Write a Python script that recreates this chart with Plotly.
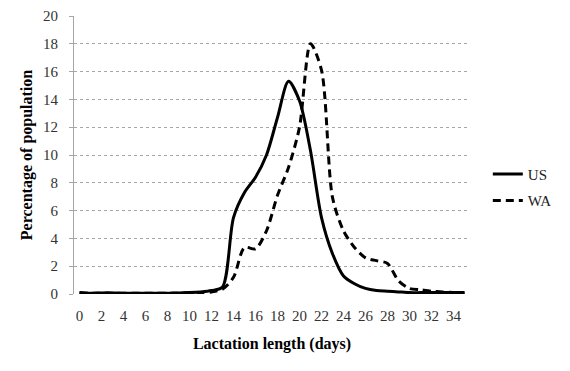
import plotly.graph_objects as go

days = list(range(0, 36))
us = [0.1, 0.05, 0.08, 0.08, 0.05, 0.05, 0.05, 0.05, 0.05, 0.08, 0.1, 0.15,
      0.25, 0.5, 5.5, 7.3, 8.4, 10.0, 12.7, 15.3, 13.9, 10.3, 5.5, 2.9,
      1.3, 0.74, 0.4, 0.25, 0.2, 0.15, 0.1, 0.1, 0.1, 0.1, 0.1, 0.1]
wa = [0.05, 0.05, 0.05, 0.05, 0.05, 0.05, 0.05, 0.05, 0.05, 0.05, 0.08, 0.1,
      0.15, 0.35, 1.2, 3.35, 3.25, 4.55, 7.1, 9.1, 12.0, 18.0, 16.1, 6.95,
      4.55, 3.35, 2.6, 2.4, 2.2, 0.95, 0.4, 0.3, 0.2, 0.15, 0.1, 0.05]
x_ticks = list(range(0, 35, 2))
y_ticks = list(range(0, 21, 2))

serif = "Liberation Serif"

fig = go.Figure()
fig.add_trace(go.Scatter(x=days, y=us, name="US", mode="lines", legendgroup="a",
                         line=dict(color="black", width=3, shape="spline", smoothing=0.8)))
fig.add_trace(go.Scatter(x=days, y=wa, name="WA", mode="lines", legendgroup="b",
                         line=dict(color="black", width=3, shape="spline", smoothing=0.8,
                                   dash="8px,5px")))

fig.update_layout(
    width=570, height=371,
    margin=dict(l=66, r=108, t=8, b=85),
    plot_bgcolor="white", paper_bgcolor="white",
    font=dict(family=serif, size=15, color="#222222"),
    showlegend=True,
    legend=dict(x=1.045, y=0.49, xanchor="left", yanchor="top",
                font=dict(family=serif, size=15, color="#222222"),
                tracegroupgap=4, bgcolor="rgba(0,0,0,0)"),
    xaxis=dict(range=[-0.5, 35.5], tickmode="array", tickvals=x_ticks,
               showgrid=False, zeroline=False, showline=False, ticks="",
               ticklabelstandoff=11, automargin=False,
               tickfont=dict(family=serif, size=15, color="#333333"),
               title=dict(text="<b>Lactation length (days)</b>", standoff=14,
                          font=dict(family=serif, size=16, color="black"))),
    yaxis=dict(range=[0, 20], tickmode="array", tickvals=y_ticks,
               showgrid=True, gridcolor="#a6a6a6", griddash="dot", gridwidth=1,
               zeroline=False, showline=True, linecolor="#a6a6a6", linewidth=1,
               ticks="outside", ticklen=4, tickcolor="#a6a6a6",
               ticklabelstandoff=8, automargin=False,
               tickfont=dict(family=serif, size=15, color="#333333"),
               title=dict(text="<b>Percentage of population</b>", standoff=6,
                          font=dict(family=serif, size=16, color="black"))),
)

fig.write_html("out.html")
